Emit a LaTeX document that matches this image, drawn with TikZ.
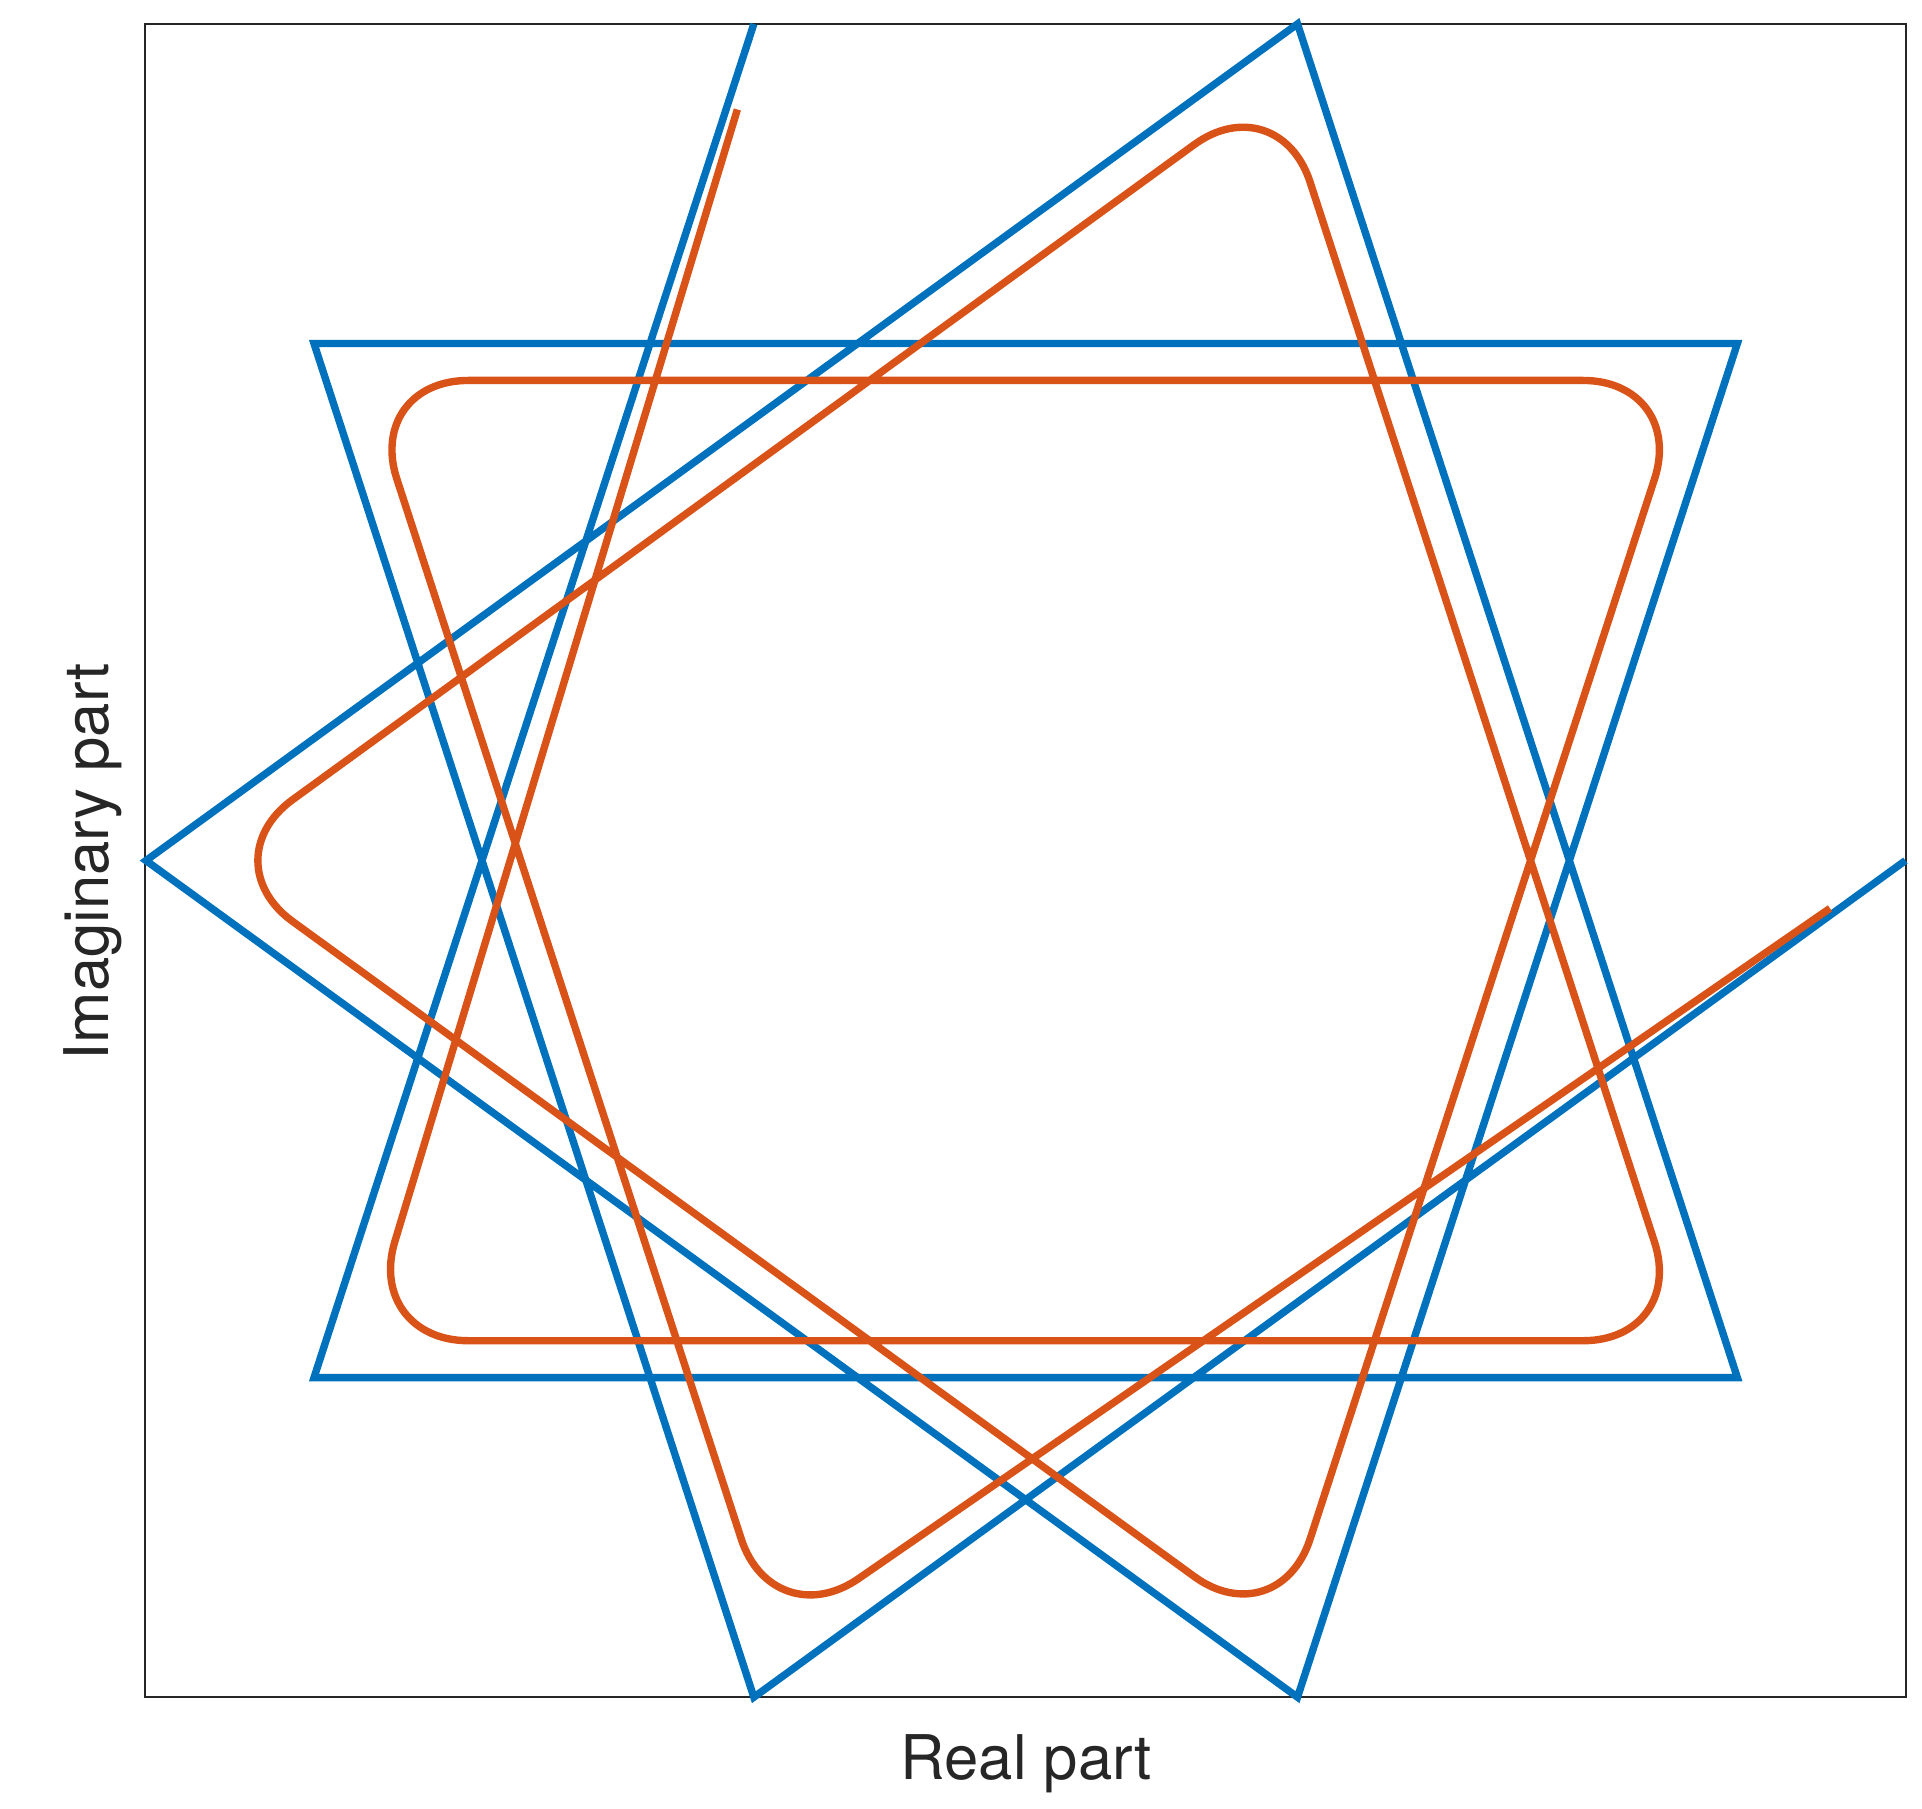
\documentclass[tikz,border=0pt]{standalone}
\usepackage{fontspec}
\setmainfont{TeX Gyre Heros}
\begin{document}
\begin{tikzpicture}[x=0.5pt,y=0.5pt,
  bluel/.style={line width=3pt,draw={rgb,255:red,0;green,114;blue,189},line join=miter},
  orangel/.style={line width=3pt,draw={rgb,255:red,217;green,83;blue,25},rounded corners=42pt}]
\useasboundingbox (0,0) rectangle (1560,1467.5);
\draw[line width=0.8pt,black!85] (118,90) rectangle (1547,1448);
\begin{scope}[shift={(832.5,769)}]
\draw[bluel] (108:714) -- (216:714) -- (324:714) -- (72:714) -- (180:714) -- (288:714) -- (36:714) -- (144:714) -- (252:714) -- (0:714);
\draw[orangel] (111:653) -- (216:663) -- (324:663) -- (72:663) -- (180:663) -- (288:663) -- (36:663) -- (144:663) -- (252:663) -- (-3.4:654);
\end{scope}
\node[font=\fontsize{25}{30}\selectfont,text=black!85] (xl) at (833,36) {Real part};
\node[font=\fontsize{25}{30}\selectfont,text=black!85,rotate=90] (yl) at (75,768) {Imaginary part};
\end{tikzpicture}
\end{document}
